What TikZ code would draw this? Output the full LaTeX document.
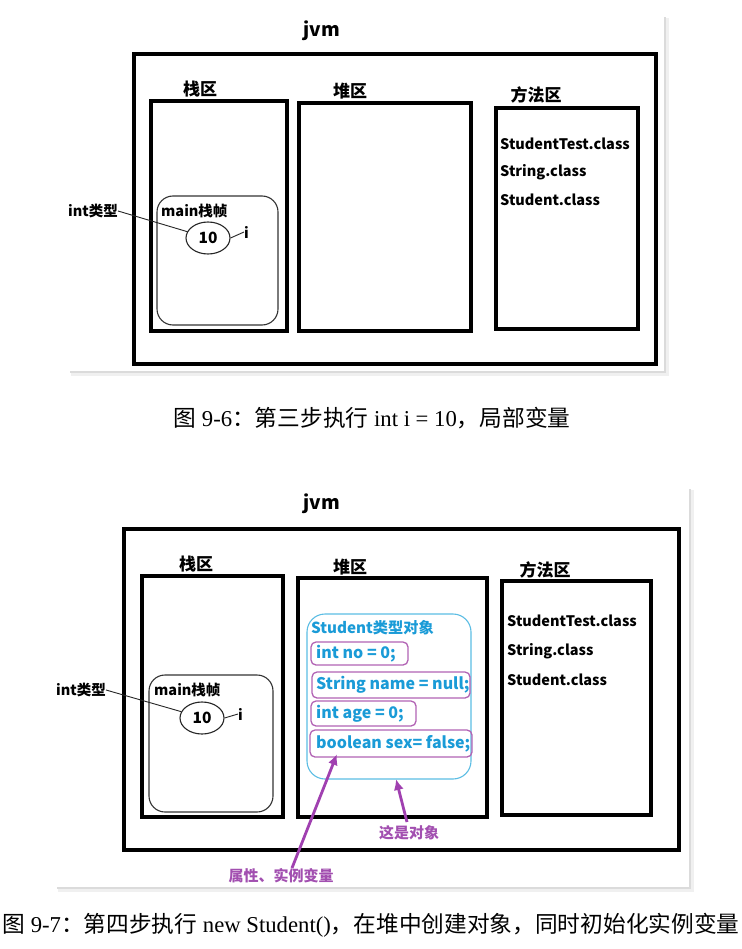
\documentclass[tikz,border=0pt]{standalone}
\usepackage{fontspec}
\setmainfont{Liberation Serif}
\newfontfamily\dia{Noto Sans CJK SC}
\newfontfamily\cjk{Noto Sans CJK SC}
\usetikzlibrary{arrows.meta,shapes.geometric}
\definecolor{cytext}{HTML}{1A9BD7}
\definecolor{cyline}{HTML}{5BBDE4}
\definecolor{pubox}{HTML}{B263B4}
\definecolor{puarrow}{HTML}{A040B0}
\definecolor{putext}{HTML}{A24FB0}
\tikzset{
  panelbg/.style={fill=white},
  shadowbox/.style={fill=black!14},
  bigbox/.style={draw=black, line width=3.6pt},
  framebox/.style={draw=black!80, line width=1.1pt, rounded corners=16pt},
  objbox/.style={draw=cyline, line width=1.1pt, rounded corners=18pt},
  fieldbox/.style={draw=pubox, line width=1.3pt, rounded corners=5pt, inner sep=0pt},
  lbl/.style={font=\dia\bfseries\fontsize{14.5}{16}\selectfont, inner sep=0pt, anchor=west},
  titletxt/.style={font=\dia\bfseries\fontsize{19}{22}\selectfont, inner sep=0pt},
  areatxt/.style={font=\dia\bfseries\fontsize{17}{20}\selectfont, inner sep=0pt},
  cytxt/.style={lbl, text=cytext, font=\dia\bfseries\fontsize{16}{18}\selectfont},
  cytitle/.style={lbl, text=cytext, font=\dia\bfseries\fontsize{15.2}{18}\selectfont},
  valell/.style={draw=black!85, line width=1.1pt, ellipse, minimum width=44pt, minimum height=32pt, inner sep=0pt, font=\dia\bfseries\fontsize{15.5}{17}\selectfont},
  thinline/.style={draw=black!85, line width=0.9pt},
  parrow/.style={draw=puarrow, line width=2.8pt, -{Latex[length=11pt,width=10pt]}},
  ptxt/.style={font=\dia\bfseries\fontsize{15}{17}\selectfont, text=putext, inner sep=0pt},
  captxt/.style={font=\fontsize{22.7}{26}\selectfont, inner sep=0pt}
}
\begin{document}
\begin{tikzpicture}[x=1pt,y=-1pt]
\useasboundingbox (0,0) rectangle (741,949);
\fill[white] (0,0) rectangle (741,949);

% ---------------- top panel ----------------
\fill[black!6] (71,18) rectangle (669,376);
\fill[shadowbox] (70,17) rectangle (666,373);
\fill[panelbg] (68,15) rectangle (664,371);

\node[titletxt] (jvmA) at (322,31) {jvm};
\draw[bigbox] (134,54) rectangle (656,364);

\node[areatxt] (stackA) at (200,89) {栈区};
\draw[bigbox] (151,101) rectangle (287,331);
\node[areatxt] (heapA) at (350,91) {堆区};
\draw[bigbox] (299,103) rectangle (471,331);
\node[areatxt] (methA) at (536,95) {方法区};
\draw[bigbox] (496,108) rectangle (638,329);

\node[lbl] (c1A) at (500,144) {StudentTest.class};
\node[lbl] (c2A) at (500,172) {String.class};
\node[lbl] (c3A) at (500,200) {Student.class};

\draw[framebox] (157,196) rectangle (278,325);
\node[lbl] (frameA) at (161,211) {main栈帧};
\node[valell] (valA) at (208,238) {10};
\node[lbl] (iA) at (244,232) {i};
\node[lbl] (typeA) at (68,211) {int类型};
\draw[thinline] (valA.east) -- (iA.west);
\draw[thinline] (typeA.east) -- (valA.163);

\node[captxt] (capA) at (372,418) {{\cjk 图} 9-6{\cjk ：第三步执行} int i = 10{\cjk ，局部变量}};

% ---------------- bottom panel ----------------
\fill[black!6] (58,490) rectangle (694,892);
\fill[shadowbox] (57,489) rectangle (691,889);
\fill[panelbg] (55,487) rectangle (689,887);

\node[titletxt] (jvmB) at (322,504) {jvm};
\draw[bigbox] (124,529) rectangle (679,850);

\node[areatxt] (stackB) at (196,564) {栈区};
\draw[bigbox] (142,576) rectangle (283,817);
\node[areatxt] (heapB) at (350,567) {堆区};
\draw[bigbox] (298,578) rectangle (487,817);
\node[areatxt] (methB) at (545,570) {方法区};
\draw[bigbox] (502,581) rectangle (651,815);

\node[lbl] (c1B) at (507,621) {StudentTest.class};
\node[lbl] (c2B) at (507,651) {String.class};
\node[lbl] (c3B) at (507,680) {Student.class};

\draw[framebox] (149,675) rectangle (273,812);
\node[lbl] (frameB) at (154,690) {main栈帧};
\node[valell] (valB) at (202,718) {10};
\node[lbl] (iB) at (238,714) {i};
\node[lbl] (typeB) at (56,690) {int类型};
\draw[thinline] (valB.east) -- (iB.west);
\draw[thinline] (typeB.east) -- (valB.163);

\draw[objbox] (307,614) rectangle (471,779);
\node[cytitle] (objT) at (311,628) {Student类型对象};
\draw[fieldbox] (311,642) rectangle (408,665);
\node[cytxt] (f1) at (316,654) {int no = 0;};
\draw[fieldbox] (312,672) rectangle (470,698);
\node[cytxt] (f2) at (316,685) {String name = null;};
\draw[fieldbox] (311,701) rectangle (416,726);
\node[cytxt] (f3) at (316,714) {int age = 0;};
\draw[fieldbox] (310,730) rectangle (472,757);
\node[cytxt] (f4) at (316,744) {boolean sex= false;};

\node[ptxt] (attrL) at (281,876) {属性、实例变量};
\node[ptxt] (objL) at (409,833) {这是对象};
\coordinate (tipA) at (337,754);
\coordinate (tipB) at (396,779);
\coordinate (tailA) at (292,868);
\coordinate (tailB) at (407,822);
\draw[parrow] (tailA) -- (tipA);
\draw[parrow] (tailB) -- (tipB);

\node[captxt] (capB) at (371,925) {{\cjk 图} 9-7{\cjk ：第四步执行} new Student(){\cjk ，在堆中创建对象，同时初始化实例变量}};
\end{tikzpicture}
\end{document}
